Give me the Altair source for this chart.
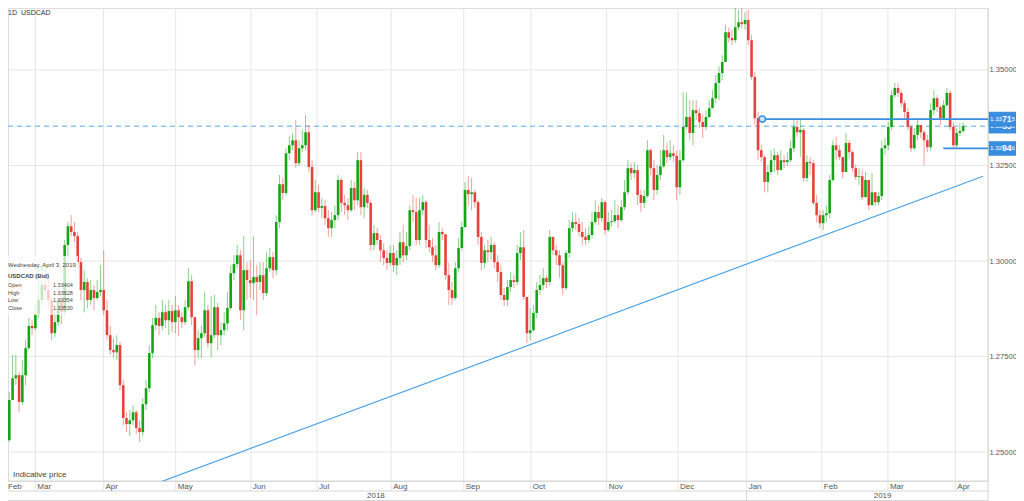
import altair as alt
import pandas as pd

# ---------------- data (prices in 1/10000 units) ----------------
FIRST_OPEN = 12484
closes = [
    12531, 12636, 12693, 12701, 12631, 12701, 12772, 12830, 12824, 12861,
    12898, 12937, 12924, 12898, 12811, 12840, 12898, 12866, 13042, 13091,
    13076, 13065, 12997, 12924, 12945, 12898, 12924, 12903, 12919, 12924,
    12871, 12806, 12767, 12761, 12780, 12675, 12589, 12573, 12583, 12604,
    12563, 12552, 12625, 12667, 12759, 12832, 12851, 12830, 12866, 12845,
    12869, 12840, 12871, 12853, 12840, 12879, 12947, 12853, 12767, 12798,
    12811, 12871, 12785, 12806, 12879, 12806, 12819, 12837, 12877, 12968,
    12992, 13015, 12871, 12976, 12950, 12942, 12958, 12945, 12963, 12916,
    12981, 13010, 12976, 13102, 13201, 13178, 13282, 13303, 13316, 13256,
    13295, 13303, 13337, 13246, 13133, 13180, 13139, 13144, 13112, 13086,
    13107, 13120, 13212, 13152, 13146, 13133, 13191, 13159, 13264, 13141,
    13173, 13152, 13042, 13073, 13055, 13028, 13008, 12995, 13021, 12989,
    13008, 13049, 13015, 13039, 13133, 13128, 13055, 13133, 13154, 13055,
    13036, 13015, 12989, 13076, 13070, 12963, 12924, 12903, 12981, 13034,
    13089, 13186, 13175, 13180, 13154, 13063, 12995, 13028, 13023, 13042,
    12997, 12971, 12911, 12898, 12932, 12950, 12945, 13021, 13036, 12906,
    12811, 12819, 12864, 12924, 12937, 12955, 12945, 13063, 13028, 13015,
    12989, 12929, 13021, 13086, 13102, 13097, 13076, 13063, 13055, 13068,
    13102, 13128, 13112, 13154, 13081, 13102, 13104, 13120, 13107, 13141,
    13180, 13243, 13230, 13238, 13173, 13152, 13170, 13290, 13243, 13186,
    13225, 13248, 13290, 13272, 13282, 13275, 13193, 13264, 13351, 13377,
    13335, 13395, 13387, 13364, 13351, 13377, 13400, 13426, 13466, 13492,
    13521, 13599, 13584, 13578, 13612, 13625, 13620, 13631, 13578, 13482,
    13374, 13290, 13272, 13207, 13233, 13264, 13277, 13238, 13264, 13259,
    13264, 13295, 13351, 13337, 13343, 13217, 13259, 13256, 13152, 13120,
    13099, 13120, 13125, 13212, 13303, 13290, 13272, 13233, 13309, 13285,
    13243, 13220, 13222, 13167, 13212, 13146, 13180, 13154, 13170, 13295,
    13303, 13351, 13434, 13453, 13440, 13413, 13390, 13351, 13295, 13330,
    13356, 13337, 13316, 13298, 13395, 13426, 13403, 13374, 13408, 13440,
    13351, 13303, 13335, 13340.4, 13353.0,
]
highs = [
    12552, 12657, 12754, 12754, 12709, 12741, 12793, 12851, 12845, 12885,
    12997, 12989, 12981, 12971, 12903, 12866, 12919, 12908, 13055, 13102,
    13120, 13102, 13076, 13008, 12976, 12955, 12950, 12937, 12950, 12989,
    13028, 12898, 12832, 12798, 12806, 12788, 12688, 12604, 12610, 12623,
    12610, 12583, 12641, 12688, 12780, 12851, 12885, 12866, 12898, 12885,
    12898, 12885, 12908, 12885, 12866, 12898, 12981, 12963, 12851, 12819,
    12832, 12919, 12885, 12908, 12911, 12890, 12840, 12866, 12919, 12989,
    13015, 13042, 13028, 13065, 12997, 13002, 13065, 12989, 12997, 12997,
    13023, 13034, 13023, 13120, 13225, 13217, 13295, 13327, 13335, 13369,
    13316, 13343, 13382, 13356, 13264, 13212, 13199, 13165, 13159, 13133,
    13128, 13146, 13225, 13217, 13173, 13165, 13212, 13207, 13285, 13285,
    13191, 13186, 13159, 13094, 13086, 13068, 13047, 13028, 13042, 13042,
    13028, 13076, 13094, 13076, 13146, 13173, 13165, 13165, 13173, 13159,
    13094, 13060, 13042, 13102, 13086, 13063, 12995, 12945, 12997, 13060,
    13102, 13207, 13222, 13217, 13186, 13159, 13076, 13042, 13055, 13063,
    13049, 13015, 12989, 12929, 12950, 12971, 12963, 13042, 13076, 13081,
    12885, 12877, 12885, 12945, 12963, 12981, 12963, 13081, 13060, 13042,
    13028, 12997, 13028, 13107, 13128, 13125, 13112, 13102, 13086, 13091,
    13128, 13159, 13146, 13165, 13159, 13128, 13133, 13159, 13146, 13159,
    13212, 13264, 13256, 13259, 13251, 13186, 13186, 13316, 13295, 13264,
    13251, 13290, 13330, 13309, 13316, 13303, 13290, 13290, 13442, 13442,
    13421, 13421, 13421, 13400, 13382, 13395, 13421, 13447, 13487, 13510,
    13539, 13618, 13610, 13605, 13662, 13657, 13662, 13652, 13657, 13592,
    13495, 13390, 13304, 13277, 13251, 13290, 13295, 13285, 13290, 13277,
    13285, 13316, 13369, 13369, 13369, 13348, 13277, 13272, 13264, 13173,
    13133, 13133, 13146, 13225, 13316, 13325, 13303, 13264, 13335, 13316,
    13290, 13251, 13243, 13238, 13233, 13191, 13230, 13173, 13180, 13316,
    13322, 13364, 13447, 13466, 13466, 13447, 13421, 13400, 13356, 13348,
    13369, 13356, 13343, 13330, 13413, 13447, 13434, 13408, 13421, 13453,
    13447, 13364, 13348, 13361, 13362.8,
]
lows = [
    12453, 12526, 12636, 12675, 12604, 12623, 12675, 12767, 12806, 12819,
    12851, 12885, 12898, 12877, 12793, 12801, 12830, 12835, 12858, 13008,
    13065, 13049, 12981, 12898, 12866, 12877, 12885, 12871, 12898, 12908,
    12858, 12793, 12754, 12746, 12741, 12662, 12570, 12552, 12542, 12570,
    12547, 12526, 12542, 12610, 12657, 12746, 12819, 12806, 12819, 12824,
    12806, 12814, 12811, 12803, 12824, 12832, 12871, 12832, 12727, 12746,
    12746, 12801, 12772, 12748, 12798, 12767, 12780, 12806, 12819, 12871,
    12950, 12981, 12845, 12819, 12898, 12903, 12898, 12858, 12924, 12898,
    12908, 12971, 12955, 12963, 13086, 13159, 13170, 13264, 13290, 13243,
    13248, 13285, 13290, 13233, 13120, 13128, 13128, 13112, 13094, 13063,
    13063, 13086, 13107, 13128, 13120, 13107, 13128, 13133, 13146, 13120,
    13112, 13139, 13028, 13028, 13042, 12997, 12989, 12976, 12987, 12971,
    12963, 12989, 12997, 13002, 13028, 13102, 13042, 13042, 13120, 13034,
    13023, 12997, 12976, 12981, 13055, 12950, 12885, 12885, 12898, 12971,
    13028, 13086, 13146, 13133, 13139, 13042, 12976, 12981, 12997, 13002,
    12981, 12945, 12898, 12882, 12882, 12919, 12929, 12937, 13002, 12898,
    12785, 12793, 12814, 12851, 12911, 12924, 12929, 12937, 13015, 12989,
    12955, 12911, 12924, 13008, 13076, 13081, 13065, 13042, 13042, 13047,
    13060, 13094, 13094, 13102, 13068, 13076, 13091, 13099, 13086, 13102,
    13133, 13173, 13212, 13217, 13146, 13128, 13139, 13165, 13225, 13159,
    13173, 13212, 13243, 13256, 13264, 13259, 13159, 13173, 13259, 13343,
    13316, 13303, 13369, 13348, 13322, 13343, 13374, 13400, 13413, 13421,
    13474, 13521, 13573, 13565, 13570, 13605, 13610, 13605, 13565, 13474,
    13356, 13264, 13259, 13180, 13180, 13225, 13233, 13225, 13251, 13243,
    13248, 13259, 13285, 13325, 13272, 13207, 13207, 13225, 13146, 13102,
    13086, 13081, 13102, 13112, 13207, 13264, 13264, 13217, 13238, 13269,
    13233, 13212, 13199, 13159, 13199, 13133, 13154, 13144, 13146, 13159,
    13277, 13290, 13343, 13426, 13429, 13403, 13374, 13343, 13285, 13290,
    13316, 13322, 13251, 13285, 13290, 13382, 13390, 13356, 13369, 13403,
    13343, 13295, 13295, 13327, 13335.4,
]

month_labels = ["Mar", "Apr", "May", "Jun", "Jul", "Aug", "Sep", "Oct", "Nov",
                "Dec", "Jan", "Feb", "Mar", "Apr"]
month_start = [9.0, 29.9, 52.1, 75.2, 95.5, 118.3, 140.6, 161.2, 184.5,
               206.4, 227.5, 250.6, 270.9, 291.6]
first_month_label = "Feb"
year_labels = ["2018", "2019"]
y_ticks = [1.25, 1.275, 1.30, 1.325, 1.35]

level_prices = [1.33715, 1.32946]
level_start = [232.3, 287.9]
last_close_level = 1.33530
trend_idx = [40.0, 300.1]
trend_price = [1.2398, 1.3222]

tooltip_date = "Wednesday, April 3, 2019"
tooltip_symbol = "USDCAD (Bid)"
tooltip_fields = ["Open", "High", "Low", "Close"]
tooltip_values = ["1.33404", "1.33628", "1.33354", "1.33530"]

# ---------------- layout / style ----------------
W, H = 980, 473
RIGHT = 28
XMIN, XMAX = 2.13, 300.1
YMIN, YMAX = 1.24241, 1.36623
FONT = "Liberation Sans"
GREEN = "#14a514"
RED = "#e8413c"
BLUE = "#3a8ee0"
GRID = "#e6e6e6"
FRAME = "#d6d6d6"
TXT = "#555555"

xs = alt.Scale(domain=[XMIN, XMAX], nice=False, zero=False)
ys = alt.Scale(domain=[YMIN, YMAX], nice=False, zero=False)
cscale = alt.Scale(domain=["up", "down"], range=[GREEN, RED])

YAXIS = alt.Axis(orient="right", values=y_ticks, format=".5f", grid=False, ticks=False,
                 domain=False, labelPadding=1, labelFontSize=7.6, labelColor=TXT,
                 labelFont=FONT, title=None, labelBaseline="middle")

n = len(closes)
opens = [FIRST_OPEN] + closes[:-1]
rows = []
for i in range(n):
    o, c = opens[i] / 1e4, closes[i] / 1e4
    h = max(highs[i] / 1e4, o, c)
    l = min(lows[i] / 1e4, o, c)
    b0, b1 = min(o, c), max(o, c)
    if b1 - b0 < 0.00025:
        m = (b0 + b1) / 2
        b0, b1 = m - 0.000125, m + 0.000125
    rows.append(dict(i=i, o=o, c=c, h=h, l=l, b0=b0, b1=b1,
                     dir="up" if c >= o else "down"))
df = pd.DataFrame(rows)

one = pd.DataFrame({"k": [0]})
X = lambda f: alt.X(f, scale=xs, axis=None)
Y = lambda f: alt.Y(f, scale=ys, axis=YAXIS, title=None)

# horizontal grid (carries the right axis)
hgrid = alt.Chart(pd.DataFrame({"p": y_ticks})).mark_rule(color=GRID, strokeWidth=1).encode(
    y=Y("p:Q"), x=alt.value(0), x2=alt.value(W))

mdf = pd.DataFrame({"m": month_start, "name": month_labels})
vgrid = alt.Chart(mdf).mark_rule(color=GRID, strokeWidth=1).encode(
    x=X("m:Q"), y=alt.value(0), y2=alt.value(483))

frame_h = alt.Chart(pd.DataFrame({"yy": [473, 483, 492.5]})).mark_rule(
    color=FRAME, strokeWidth=1).encode(
    y=alt.Y("yy:Q", scale=None), x=alt.value(0), x2=alt.value(W))
frame_v = alt.Chart(one).mark_rule(color=FRAME, strokeWidth=1).encode(
    x=alt.value(W), y=alt.value(0), y2=alt.value(493))
year_sep = alt.Chart(pd.DataFrame({"m": [month_start[10]]})).mark_rule(
    color=FRAME, strokeWidth=1).encode(x=X("m:Q"), y=alt.value(483), y2=alt.value(493))

month_text = alt.Chart(mdf).mark_text(
    align="left", baseline="alphabetic", dx=2, fontSize=8, font=FONT, color=TXT).encode(
    x=X("m:Q"), y=alt.value(481), text="name:N")
feb_text = alt.Chart(pd.DataFrame({"t": [first_month_label]})).mark_text(
    align="left", baseline="alphabetic", fontSize=8, font=FONT, color=TXT).encode(
    x=alt.value(0), y=alt.value(481), text="t:N")

span_lo, span_hi = -0.3, 311.0
ydf = pd.DataFrame({"name": year_labels,
                    "xc": [(span_lo + month_start[10]) / 2, (month_start[10] + span_hi) / 2]})
year_text = alt.Chart(ydf).mark_text(
    align="center", baseline="alphabetic", fontSize=8, font=FONT, color=TXT).encode(
    x=X("xc:Q"), y=alt.value(490), text="name:N")

dashed = alt.Chart(pd.DataFrame({"p": [last_close_level]})).mark_rule(
    color="#8fc4ee", strokeWidth=1.5, strokeDash=[5, 4]).encode(
    y=Y("p:Q"), x=alt.value(0), x2=alt.value(W))

trend = alt.Chart(pd.DataFrame({"i": trend_idx, "p": trend_price})).mark_line(
    clip=True, color="#4aa3e3", strokeWidth=1.2).encode(x=X("i:Q"), y=Y("p:Q"))

wicks = alt.Chart(df).mark_rule(strokeWidth=1, opacity=0.5).encode(
    x=X("i:Q"), y=Y("l:Q"), y2="h:Q",
    color=alt.Color("dir:N", scale=cscale, legend=None))
bodies = alt.Chart(df).mark_bar(size=2.6).encode(
    x=X("i:Q"), y=Y("b0:Q"), y2="b1:Q",
    color=alt.Color("dir:N", scale=cscale, legend=None))

ldf = pd.DataFrame({"p": level_prices, "s": level_start})
levels = alt.Chart(ldf).mark_rule(color=BLUE, strokeWidth=1.8).encode(
    y=Y("p:Q"), x=X("s:Q"), x2=alt.value(W))
marker = alt.Chart(ldf.iloc[[0]]).mark_point(
    shape="circle", filled=True, fill="#cfe5f7", stroke=BLUE, strokeWidth=1.4,
    size=40, opacity=1).encode(x=X("s:Q"), y=Y("p:Q"))

# right-side price tags (must fit inside the W + RIGHT wide canvas)
half = 7 * (YMAX - YMIN) / H
tag_prices = [last_close_level, level_prices[0], level_prices[1]]
tag_layers = []
for p in tag_prices:
    s = f"{p:.5f}"
    tdf = pd.DataFrame({"p": [p], "top": [p + half], "bot": [p - half],
                        "a": [s[:4]], "b": [s[4:6]], "c": [s[6:]]})
    box = alt.Chart(tdf).mark_rect(fill=BLUE, stroke="#2f7fce", strokeWidth=0.5).encode(
        x=alt.value(W + 1), x2=alt.value(W + RIGHT), y=Y("top:Q"), y2="bot:Q")
    ta = alt.Chart(tdf).mark_text(align="left", baseline="middle", fontSize=6.2,
                                  font=FONT, color="white").encode(
        x=alt.value(W + 2), y=Y("p:Q"), text="a:N")
    tb = alt.Chart(tdf).mark_text(align="left", baseline="middle", fontSize=8.6,
                                  fontWeight="bold", font=FONT, color="white").encode(
        x=alt.value(W + 14), y=Y("p:Q"), text="b:N")
    tc = alt.Chart(tdf).mark_text(align="left", baseline="middle", fontSize=6.2,
                                  font=FONT, color="white").encode(
        x=alt.value(W + 23.6), y=Y("p:Q"), text="c:N")
    tag_layers += [box, ta, tb, tc]

# tooltip overlay
tip_box = alt.Chart(one).mark_rect(fill="white", opacity=0.72).encode(
    x=alt.value(0), x2=alt.value(70), y=alt.value(248), y2=alt.value(307))
tip_date = alt.Chart(pd.DataFrame({"t": [tooltip_date]})).mark_text(
    align="left", baseline="alphabetic", fontSize=6, font=FONT, color="#444").encode(
    x=alt.value(0), y=alt.value(259), text="t:N")
tip_sym = alt.Chart(pd.DataFrame({"t": [tooltip_symbol]})).mark_text(
    align="left", baseline="alphabetic", fontSize=6, fontWeight="bold", font=FONT,
    color="#444").encode(x=alt.value(0), y=alt.value(270), text="t:N")
tip_rows = pd.DataFrame({"f": tooltip_fields, "v": tooltip_values,
                         "yy": [279 + 7.5 * k for k in range(len(tooltip_fields))]})
tip_f = alt.Chart(tip_rows).mark_text(align="left", baseline="alphabetic", fontSize=5.5,
                                      font=FONT, color="#444").encode(
    x=alt.value(0), y=alt.Y("yy:Q", scale=None), text="f:N")
tip_v = alt.Chart(tip_rows).mark_text(align="left", baseline="alphabetic", fontSize=5.5,
                                      font=FONT, color="#444").encode(
    x=alt.value(45), y=alt.Y("yy:Q", scale=None), text="v:N")

title_a = alt.Chart(pd.DataFrame({"t": ["1D"]})).mark_text(
    align="left", baseline="top", fontSize=7, font=FONT, color="#333").encode(
    x=alt.value(0), y=alt.value(1), text="t:N")
title_b = alt.Chart(pd.DataFrame({"t": ["USDCAD"]})).mark_text(
    align="left", baseline="top", fontSize=7, font=FONT, color="#333").encode(
    x=alt.value(13), y=alt.value(1), text="t:N")
indicative = alt.Chart(pd.DataFrame({"t": ["Indicative price"]})).mark_text(
    align="left", baseline="alphabetic", fontSize=8, font=FONT, color="#444").encode(
    x=alt.value(5), y=alt.value(469), text="t:N")

chart = alt.layer(
    hgrid, vgrid, frame_h, frame_v, year_sep, month_text, feb_text, year_text,
    dashed, trend, wicks, bodies, levels, marker,
    tip_box, tip_date, tip_sym, tip_f, tip_v, title_a, title_b, indicative,
    *tag_layers,
).properties(
    width=W, height=H,
    autosize=alt.AutoSizeParams(type="none"),
    padding={"left": 0, "top": 0, "right": RIGHT, "bottom": 20},
).configure_view(stroke=None).configure(background="white")

chart.save("out.html", embed_options={"renderer": "svg", "actions": False})
